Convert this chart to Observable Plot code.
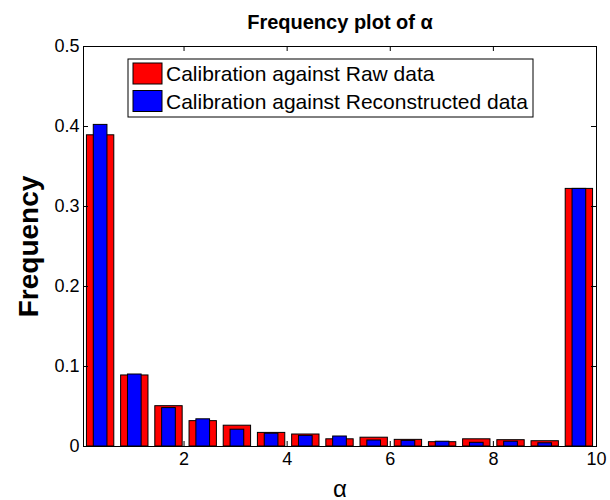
<!DOCTYPE html>
<html>
<head>
<meta charset="utf-8">
<script src="https://cdn.jsdelivr.net/npm/d3@7"></script>
<script src="https://cdn.jsdelivr.net/npm/@observablehq/plot@0.6"></script>
<style>
  body { margin: 0; background: #fff; }
  #chart { width: 610px; height: 500px; }
</style>
</head>
<body>
<div id="chart"></div>
<script>
// Histogram of alpha: 15 equal bins between 0.05 and 10
const binCenters = [0.382, 1.045, 1.708, 2.372, 3.035, 3.698, 4.362, 5.025, 5.688, 6.352, 7.015, 7.678, 8.342, 9.005, 9.668];
const binWidth = 0.6633;
const rawFreq   = [0.389, 0.0888, 0.0504, 0.0317, 0.026, 0.017, 0.015, 0.009, 0.011, 0.0083, 0.0054, 0.009, 0.0079, 0.0066, 0.322];
const reconFreq = [0.402, 0.090, 0.048, 0.034, 0.021, 0.016, 0.0133, 0.0125, 0.0075, 0.007, 0.006, 0.0046, 0.006, 0.004, 0.322];
const xTicks = [2, 4, 6, 8, 10];
const yTicks = [0, 0.1, 0.2, 0.3, 0.4, 0.5];
const seriesNames = ["Calibration against Raw data", "Calibration against Reconstructed data"];
const seriesColors = ["#ff0000", "#0000ff"];
const titleText = "Frequency plot of α";
const xLabel = "α";
const yLabel = "Frequency";

const W = 610, H = 500;
const mL = 83, mR = 14, mT = 46, mB = 54;
const innerW = W - mL - mR, innerH = H - mT - mB;
const font = "'Liberation Sans', Arial, Helvetica, sans-serif";
const tickLen = 5;

const rows = binCenters.map((c, i) => ({c, raw: rawFreq[i], recon: reconFreq[i]}));

const chart = Plot.plot({
  width: W,
  height: H,
  marginLeft: mL, marginRight: mR, marginTop: mT, marginBottom: mB,
  style: {fontFamily: font, fontSize: "18px", color: "#000", background: "#fff", overflow: "visible"},
  x: {domain: [0.05, 10]},
  y: {domain: [0, 0.5]},
  marks: [
    // wide red bars, narrow blue bars drawn on top
    Plot.rect(rows, {x1: d => d.c - 0.4 * binWidth, x2: d => d.c + 0.4 * binWidth, y1: 0, y2: "raw",
      fill: seriesColors[0], stroke: "#000", strokeWidth: 1}),
    Plot.rect(rows, {x1: d => d.c - 0.2 * binWidth, x2: d => d.c + 0.2 * binWidth, y1: 0, y2: "recon",
      fill: seriesColors[1], stroke: "#000", strokeWidth: 1}),
    // tick labels
    Plot.axisX(xTicks, {tickSize: 0, tickPadding: 6, label: null, tickFormat: d => String(d), fontSize: 18}),
    Plot.axisY(yTicks, {tickSize: 0, tickPadding: 4, label: null, tickFormat: d => String(d), fontSize: 18}),
    // inward ticks on all four sides
    Plot.tickX(xTicks, {x: d => d, insetTop: innerH - tickLen, stroke: "#000"}),
    Plot.tickX(xTicks, {x: d => d, insetBottom: innerH - tickLen, stroke: "#000"}),
    Plot.tickY(yTicks, {y: d => d, insetRight: innerW - tickLen, stroke: "#000"}),
    Plot.tickY(yTicks, {y: d => d, insetLeft: innerW - tickLen, stroke: "#000"}),
    Plot.frame({stroke: "#000"}),
    // title and axis labels
    Plot.text([titleText], {frameAnchor: "top", dy: -32, fontWeight: "bold", fontSize: 20, fill: "#000"}),
    Plot.text([yLabel], {frameAnchor: "left", dx: -54, rotate: -90, textAnchor: "middle",
      fontWeight: "bold", fontSize: 28, fill: "#000"}),
    Plot.text([xLabel], {frameAnchor: "bottom", dy: 50, fontSize: 24, fill: "#000"})
  ]
});

// legend box in the upper left of the axes
const svg = d3.select(chart);
const lg = svg.append("g").attr("transform", "translate(128,59)")
  .attr("font-family", font).attr("font-size", 21).attr("text-anchor", "start");
lg.append("rect").attr("width", 405).attr("height", 58).attr("fill", "#fff").attr("stroke", "#000");
seriesNames.forEach((name, i) => {
  const y = 4 + i * 27.5;
  lg.append("rect").attr("x", 5).attr("y", y).attr("width", 29).attr("height", 21)
    .attr("fill", seriesColors[i]).attr("stroke", "#000");
  lg.append("text").attr("x", 38).attr("y", y + 18).attr("fill", "#000").text(name);
});

document.getElementById("chart").appendChild(chart);
</script>
</body>
</html>
